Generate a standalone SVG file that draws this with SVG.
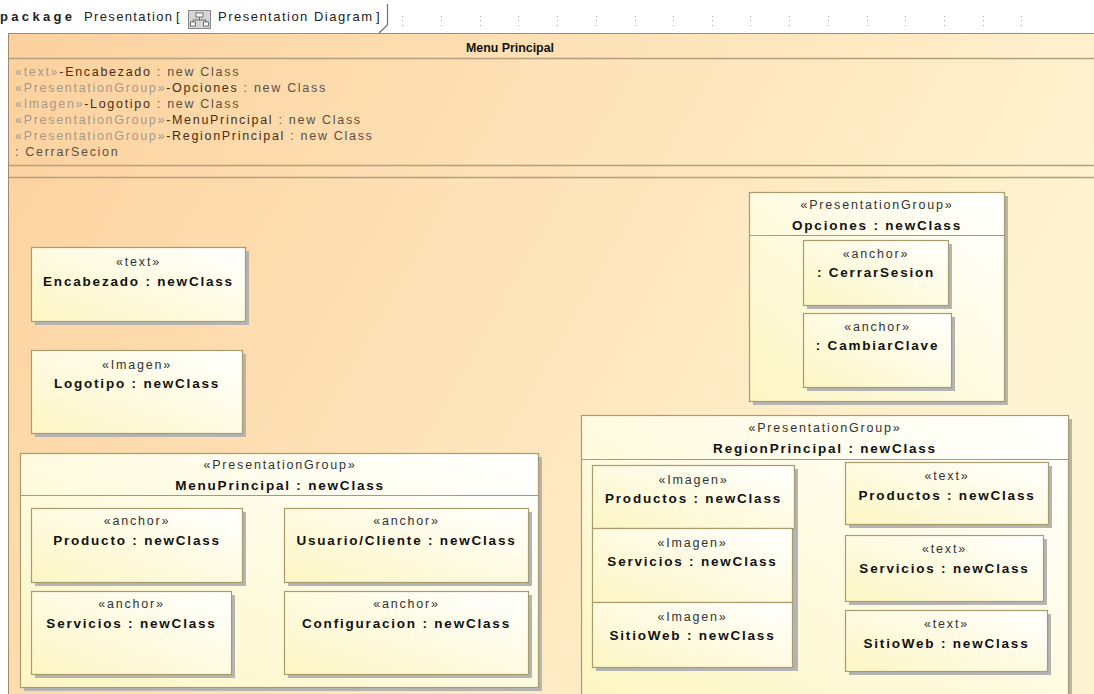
<svg xmlns="http://www.w3.org/2000/svg" width="1094" height="694" viewBox="0 0 1094 694">
<defs>
<linearGradient id="gFrame" x1="0" y1="0" x2="1" y2="0.35">
<stop offset="0" stop-color="#fcd19e"/>
<stop offset="1" stop-color="#fff4d2"/>
</linearGradient>
<linearGradient id="gNode" x1="0" y1="1" x2="1" y2="0">
<stop offset="0" stop-color="#fdf6c3"/>
<stop offset="1" stop-color="#ffffff"/>
</linearGradient>
</defs>
<style>
.frame{fill:url(#gFrame);stroke:#9a8c78;stroke-width:1}
.sep{stroke:#b49e80;stroke-width:1.5;fill:none}
.node{fill:url(#gNode);stroke:#a89c6c;stroke-width:1.2}
.hdr{stroke:#a89c6c;stroke-width:1.2;fill:none}
.shadow{fill:#b4b4b4}
.st{font-family:"Liberation Sans",Arial,sans-serif;font-size:12.5px;letter-spacing:1.8px;fill:#333;text-anchor:middle}
.nm{font-family:"Liberation Sans",Arial,sans-serif;font-size:13.5px;font-weight:bold;letter-spacing:1.8px;fill:#111;text-anchor:middle}
.at{font-family:"Liberation Sans",Arial,sans-serif;font-size:12.5px;letter-spacing:1.7px}
.ag{fill:#a39a90}
.an{fill:#4a2c14}
.ar{fill:#5a5044}
.pk{font-family:"Liberation Sans",Arial,sans-serif;font-size:13px;fill:#222}
.dot{fill:#a8a8a8}
</style>
<rect x="0" y="0" width="1094" height="694" fill="#ffffff"/>

<!-- package tab header -->
<g id="package-tab">
<text class="pk" x="0" y="20.5" font-weight="bold" textLength="72" lengthAdjust="spacing">package</text>
<text class="pk" x="84" y="20.5" textLength="88" lengthAdjust="spacing">Presentation</text>
<text class="pk" x="176" y="20.5">[</text>
<rect x="188.5" y="10.5" width="22" height="18" fill="#d6d6d6" stroke="#8a8a8a"/>
<rect x="196" y="13" width="7" height="4" fill="#ffffff" stroke="#555" stroke-width="0.8"/>
<path d="M199.5 17 V20 M193 20 H206 M193 20 V22 M206 20 V22" stroke="#555" stroke-width="0.8" fill="none"/>
<rect x="190.5" y="22" width="5" height="4" fill="#ffffff" stroke="#555" stroke-width="0.8"/>
<rect x="203.5" y="22" width="5" height="4" fill="#ffffff" stroke="#555" stroke-width="0.8"/>
<text class="pk" x="218" y="20.5" textLength="154" lengthAdjust="spacing">Presentation Diagram</text>
<text class="pk" x="376" y="20.5">]</text>
<path d="M387.5 4 V25 L379 33" stroke="#6f6f6f" stroke-width="1.2" fill="none"/>
</g>

<!-- grid dots -->
<g id="grid">
<rect class="dot" x="402" y="16" width="1" height="1"/><rect class="dot" x="402" y="20" width="1" height="1"/><rect class="dot" x="402" y="25" width="1" height="1"/>
<rect class="dot" x="441" y="16" width="1" height="1"/><rect class="dot" x="441" y="20" width="1" height="1"/><rect class="dot" x="441" y="25" width="1" height="1"/>
<rect class="dot" x="480" y="16" width="1" height="1"/><rect class="dot" x="480" y="20" width="1" height="1"/><rect class="dot" x="480" y="25" width="1" height="1"/>
<rect class="dot" x="518" y="16" width="1" height="1"/><rect class="dot" x="518" y="20" width="1" height="1"/><rect class="dot" x="518" y="25" width="1" height="1"/>
<rect class="dot" x="557" y="16" width="1" height="1"/><rect class="dot" x="557" y="20" width="1" height="1"/><rect class="dot" x="557" y="25" width="1" height="1"/>
<rect class="dot" x="596" y="16" width="1" height="1"/><rect class="dot" x="596" y="20" width="1" height="1"/><rect class="dot" x="596" y="25" width="1" height="1"/>
<rect class="dot" x="635" y="16" width="1" height="1"/><rect class="dot" x="635" y="20" width="1" height="1"/><rect class="dot" x="635" y="25" width="1" height="1"/>
<rect class="dot" x="673" y="16" width="1" height="1"/><rect class="dot" x="673" y="20" width="1" height="1"/><rect class="dot" x="673" y="25" width="1" height="1"/>
<rect class="dot" x="712" y="16" width="1" height="1"/><rect class="dot" x="712" y="20" width="1" height="1"/><rect class="dot" x="712" y="25" width="1" height="1"/>
<rect class="dot" x="750" y="16" width="1" height="1"/><rect class="dot" x="750" y="20" width="1" height="1"/><rect class="dot" x="750" y="25" width="1" height="1"/>
<rect class="dot" x="789" y="16" width="1" height="1"/><rect class="dot" x="789" y="20" width="1" height="1"/><rect class="dot" x="789" y="25" width="1" height="1"/>
<rect class="dot" x="828" y="16" width="1" height="1"/><rect class="dot" x="828" y="20" width="1" height="1"/><rect class="dot" x="828" y="25" width="1" height="1"/>
<rect class="dot" x="867" y="16" width="1" height="1"/><rect class="dot" x="867" y="20" width="1" height="1"/><rect class="dot" x="867" y="25" width="1" height="1"/>
<rect class="dot" x="905" y="16" width="1" height="1"/><rect class="dot" x="905" y="20" width="1" height="1"/><rect class="dot" x="905" y="25" width="1" height="1"/>
<rect class="dot" x="944" y="16" width="1" height="1"/><rect class="dot" x="944" y="20" width="1" height="1"/><rect class="dot" x="944" y="25" width="1" height="1"/>
<rect class="dot" x="983" y="16" width="1" height="1"/><rect class="dot" x="983" y="20" width="1" height="1"/><rect class="dot" x="983" y="25" width="1" height="1"/>
<rect class="dot" x="1021" y="16" width="1" height="1"/><rect class="dot" x="1021" y="20" width="1" height="1"/><rect class="dot" x="1021" y="25" width="1" height="1"/>
</g>

<!-- outer frame: Menu Principal -->
<g id="menu-principal-frame">
<rect class="frame" x="8.5" y="33.5" width="1100" height="680"/>
<line class="sep" x1="9" y1="58.5" x2="1094" y2="58.5"/>
<text x="510" y="52" text-anchor="middle" font-family="'Liberation Sans',Arial,sans-serif" font-size="13" font-weight="bold" fill="#111" textLength="88" lengthAdjust="spacingAndGlyphs">Menu Principal</text>
<text class="at" x="15" y="75.5"><tspan class="ag">«text»</tspan><tspan class="an">-Encabezado</tspan><tspan class="ar"> : new Class</tspan></text>
<text class="at" x="15" y="91.5"><tspan class="ag">«PresentationGroup»</tspan><tspan class="an">-Opciones</tspan><tspan class="ar"> : new Class</tspan></text>
<text class="at" x="15" y="107.5"><tspan class="ag">«Imagen»</tspan><tspan class="an">-Logotipo</tspan><tspan class="ar"> : new Class</tspan></text>
<text class="at" x="15" y="123.5"><tspan class="ag">«PresentationGroup»</tspan><tspan class="an">-MenuPrincipal</tspan><tspan class="ar"> : new Class</tspan></text>
<text class="at" x="15" y="139.5"><tspan class="ag">«PresentationGroup»</tspan><tspan class="an">-RegionPrincipal</tspan><tspan class="ar"> : new Class</tspan></text>
<text class="at" x="15" y="155.5"><tspan class="ar">: CerrarSecion</tspan></text>
<line class="sep" x1="9" y1="165.5" x2="1094" y2="165.5"/>
<line class="sep" x1="9" y1="177.5" x2="1094" y2="177.5"/>
</g>

<!-- Encabezado -->
<g id="encabezado">
<rect class="shadow" x="35" y="251" width="214" height="74"/>
<rect class="node" x="31.5" y="247.5" width="214" height="74"/>
<text class="st" x="138.5" y="266">«text»</text>
<text class="nm" x="138.5" y="285.5">Encabezado : newClass</text>
</g>

<!-- Logotipo -->
<g id="logotipo">
<rect class="shadow" x="35" y="354" width="211" height="83"/>
<rect class="node" x="31.5" y="350.5" width="211" height="83"/>
<text class="st" x="137" y="369">«Imagen»</text>
<text class="nm" x="137" y="388">Logotipo : newClass</text>
</g>

<!-- Opciones -->
<g id="opciones">
<rect class="shadow" x="753" y="196" width="255" height="209"/>
<rect class="node" x="749.5" y="192.5" width="255" height="209"/>
<line class="hdr" x1="749.5" y1="235.5" x2="1004.5" y2="235.5"/>
<text class="st" x="877" y="209">«PresentationGroup»</text>
<text class="nm" x="877" y="230">Opciones : newClass</text>
</g>
<g id="cerrar-sesion">
<rect class="shadow" x="807" y="244" width="145" height="65"/>
<rect class="node" x="803.5" y="240.5" width="145" height="65"/>
<text class="st" x="876" y="258">«anchor»</text>
<text class="nm" x="876" y="277">: CerrarSesion</text>
</g>
<g id="cambiar-clave">
<rect class="shadow" x="807" y="317" width="148" height="74"/>
<rect class="node" x="803.5" y="313.5" width="148" height="74"/>
<text class="st" x="877.5" y="331">«anchor»</text>
<text class="nm" x="877.5" y="350">: CambiarClave</text>
</g>

<!-- MenuPrincipal group -->
<g id="menu-principal">
<rect class="shadow" x="24" y="457" width="518" height="234"/>
<rect class="node" x="20.5" y="453.5" width="518" height="234"/>
<line class="hdr" x1="20.5" y1="495.5" x2="538.5" y2="495.5"/>
<text class="st" x="280" y="469">«PresentationGroup»</text>
<text class="nm" x="280" y="490">MenuPrincipal : newClass</text>
</g>
<g id="producto">
<rect class="shadow" x="35" y="512" width="211" height="74"/>
<rect class="node" x="31.5" y="508.5" width="211" height="74"/>
<text class="st" x="137" y="525">«anchor»</text>
<text class="nm" x="137" y="545">Producto : newClass</text>
</g>
<g id="servicios-anchor">
<rect class="shadow" x="35" y="595" width="200" height="83"/>
<rect class="node" x="31.5" y="591.5" width="200" height="83"/>
<text class="st" x="131.5" y="608">«anchor»</text>
<text class="nm" x="131.5" y="628">Servicios : newClass</text>
</g>
<g id="usuario-cliente">
<rect class="shadow" x="288" y="512" width="244" height="74"/>
<rect class="node" x="284.5" y="508.5" width="244" height="74"/>
<text class="st" x="406.5" y="525">«anchor»</text>
<text class="nm" x="406.5" y="545">Usuario/Cliente : newClass</text>
</g>
<g id="configuracion">
<rect class="shadow" x="288" y="595" width="244" height="83"/>
<rect class="node" x="284.5" y="591.5" width="244" height="83"/>
<text class="st" x="406.5" y="608">«anchor»</text>
<text class="nm" x="406.5" y="628">Configuracion : newClass</text>
</g>

<!-- RegionPrincipal group -->
<g id="region-principal">
<rect class="shadow" x="585" y="419" width="487" height="280"/>
<rect class="node" x="581.5" y="415.5" width="487" height="280"/>
<line class="hdr" x1="581.5" y1="459.5" x2="1068.5" y2="459.5"/>
<text class="st" x="825" y="432">«PresentationGroup»</text>
<text class="nm" x="825" y="453">RegionPrincipal : newClass</text>
</g>
<g id="imagen-stack-shadow">
<rect class="shadow" x="596" y="469" width="202" height="202"/>
</g>
<g id="imagen-productos">
<rect class="node" x="592.5" y="465.5" width="202" height="63"/>
<text class="st" x="693.5" y="484">«Imagen»</text>
<text class="nm" x="693.5" y="503">Productos : newClass</text>
</g>
<g id="imagen-servicios">
<rect class="node" x="592.5" y="528.5" width="200" height="74"/>
<text class="st" x="692.5" y="547">«Imagen»</text>
<text class="nm" x="692.5" y="566">Servicios : newClass</text>
</g>
<g id="imagen-sitioweb">
<rect class="node" x="592.5" y="602.5" width="200" height="65"/>
<text class="st" x="692.5" y="621">«Imagen»</text>
<text class="nm" x="692.5" y="640">SitioWeb : newClass</text>
</g>
<g id="text-productos">
<rect class="shadow" x="849" y="466" width="203" height="62"/>
<rect class="node" x="845.5" y="462.5" width="203" height="62"/>
<text class="st" x="947" y="480">«text»</text>
<text class="nm" x="947" y="500">Productos : newClass</text>
</g>
<g id="text-servicios">
<rect class="shadow" x="849" y="539" width="198" height="66"/>
<rect class="node" x="845.5" y="535.5" width="198" height="66"/>
<text class="st" x="944.5" y="553">«text»</text>
<text class="nm" x="944.5" y="573">Servicios : newClass</text>
</g>
<g id="text-sitioweb">
<rect class="shadow" x="849" y="614" width="202" height="61"/>
<rect class="node" x="845.5" y="610.5" width="202" height="61"/>
<text class="st" x="946.5" y="628">«text»</text>
<text class="nm" x="946.5" y="648">SitioWeb : newClass</text>
</g>

<g id="connectors"></g>
</svg>
